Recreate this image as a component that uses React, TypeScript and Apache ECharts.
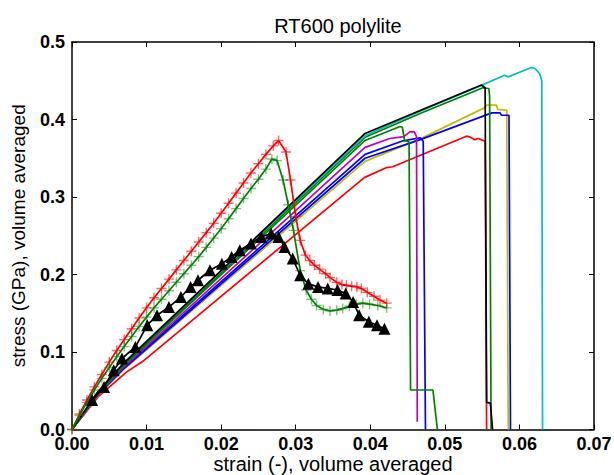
import React, { useEffect, useRef } from "react";
import * as echarts from "echarts";

const FONT = "'Liberation Sans', Arial, sans-serif";

const xTicks = [0, 0.01, 0.02, 0.03, 0.04, 0.05, 0.06, 0.07];
const yTicks = [0, 0.1, 0.2, 0.3, 0.4, 0.5];

const redPlain = [[0,0],[0.0035,0.042],[0.0073,0.074],[0.0095,0.088],[0.0392,0.325],[0.0422,0.338],[0.043,0.339],[0.0529,0.3785],[0.0533,0.3776],[0.054,0.374],[0.0545,0.3755],[0.0551,0.373],[0.0554,0.372],[0.0556,0]];
const yellowPlain = [[0,0],[0.0035,0.044],[0.007,0.078],[0.0393,0.346],[0.0467,0.375],[0.0553,0.415],[0.0556,0.4185],[0.0569,0.4185],[0.0571,0.413],[0.0583,0.412],[0.0585,0]];
const bluePlainLong = [[0,0],[0.0035,0.045],[0.007,0.079],[0.0393,0.35],[0.0467,0.374],[0.0563,0.4085],[0.0574,0.4085],[0.0576,0.4055],[0.0586,0.4055],[0.0588,0]];
const bluePlainShort = [[0,0],[0.0035,0.046],[0.007,0.08],[0.0393,0.355],[0.0444,0.3725],[0.0467,0.3765],[0.0471,0.372],[0.0474,0]];
const magentaPlain = [[0,0],[0.0035,0.046],[0.007,0.081],[0.0393,0.364],[0.0426,0.3755],[0.0445,0.378],[0.0453,0.384],[0.0459,0.384],[0.0462,0.378],[0.0463,0.01]];
const greenShort = [[0,0],[0.0035,0.047],[0.007,0.083],[0.0393,0.373],[0.044,0.391],[0.0443,0.39],[0.0446,0.373],[0.0452,0.371],[0.0454,0.051],[0.0484,0.051],[0.049,0]];
const greenLong = [[0,0],[0.0035,0.048],[0.007,0.084],[0.0393,0.377],[0.047,0.409],[0.0551,0.441],[0.0559,0.44],[0.056,0.43],[0.0562,0]];
const cyanPlain = [[0,0],[0.0035,0.049],[0.007,0.087],[0.0393,0.379],[0.047,0.412],[0.0549,0.444],[0.058,0.457],[0.0585,0.455],[0.0616,0.467],[0.0621,0.4658],[0.0627,0.459],[0.063,0.45],[0.0631,0]];
const blackPlain = [[0,0],[0.0035,0.049],[0.007,0.086],[0.0393,0.382],[0.047,0.413],[0.0549,0.4445],[0.0554,0.441],[0.0556,0.035],[0.0561,0.034],[0.0564,0]];

const redPlus = [[0,0],[0.001,0.02],[0.002,0.038],[0.003,0.055],[0.004,0.071],[0.005,0.087],[0.006,0.102],[0.007,0.116],[0.008,0.13],[0.009,0.144],[0.01,0.157],[0.011,0.17],[0.012,0.182],[0.013,0.194],[0.014,0.206],[0.015,0.218],[0.016,0.23],[0.017,0.242],[0.018,0.254],[0.019,0.266],[0.02,0.279],[0.021,0.292],[0.022,0.305],[0.023,0.318],[0.024,0.331],[0.025,0.343],[0.026,0.355],[0.027,0.366],[0.0277,0.373],[0.0287,0.358],[0.0293,0.322],[0.03,0.275],[0.0306,0.244],[0.0313,0.225],[0.0319,0.218],[0.0325,0.212],[0.0332,0.207],[0.034,0.201],[0.0346,0.196],[0.0355,0.19],[0.0362,0.187],[0.0368,0.186],[0.0375,0.185],[0.0382,0.184],[0.0388,0.182],[0.0396,0.177],[0.0405,0.172],[0.0413,0.167],[0.0422,0.163]];
const greenPlus = [[0,0],[0.001,0.018],[0.002,0.035],[0.003,0.051],[0.004,0.066],[0.005,0.08],[0.006,0.094],[0.007,0.107],[0.008,0.12],[0.009,0.133],[0.01,0.145],[0.011,0.157],[0.012,0.168],[0.013,0.179],[0.014,0.19],[0.015,0.201],[0.016,0.212],[0.017,0.223],[0.018,0.235],[0.019,0.247],[0.02,0.259],[0.021,0.272],[0.022,0.285],[0.023,0.298],[0.024,0.311],[0.025,0.323],[0.026,0.336],[0.0268,0.349],[0.0275,0.347],[0.0283,0.322],[0.029,0.29],[0.0297,0.257],[0.0306,0.205],[0.0314,0.18],[0.0321,0.168],[0.0328,0.16],[0.0337,0.155],[0.0346,0.153],[0.0355,0.154],[0.0363,0.156],[0.0372,0.159],[0.0381,0.1617],[0.039,0.163],[0.0399,0.1617],[0.041,0.16],[0.0422,0.157]];
const blackTri = [[0.0027,0.038],[0.0043,0.055],[0.0056,0.0765],[0.0067,0.0916],[0.0085,0.1066],[0.0101,0.1346],[0.0114,0.1475],[0.013,0.158],[0.0146,0.171],[0.0159,0.184],[0.0169,0.1926],[0.0185,0.2055],[0.0201,0.214],[0.0214,0.2227],[0.0225,0.2313],[0.024,0.24],[0.0254,0.2485],[0.0267,0.253],[0.0277,0.2485],[0.0285,0.2356],[0.0296,0.2206],[0.0306,0.199],[0.0317,0.188],[0.033,0.184],[0.0343,0.182],[0.0356,0.18],[0.0367,0.1755],[0.0377,0.1646],[0.0385,0.1475],[0.0398,0.139],[0.0409,0.1346],[0.0419,0.13]];

const PLUS = "path://M4.3,0H5.7V4.3H10V5.7H5.7V10H4.3V5.7H0V4.3H4.3Z";

function plain(data: number[][], color: string) {
  return {
    type: "line", data, symbol: "none", lineStyle: { color, width: 1.7 }, itemStyle: { color }, z: 2,
  };
}
function marked(data: number[][], color: string, symbol: string, size: number, opacity: number) {
  return {
    type: "line", data, symbol, symbolSize: size, showSymbol: true, showAllSymbol: true,
    lineStyle: { color, width: 1.7 }, itemStyle: { color, opacity }, z: 3,
  };
}

export default function App() {
  const ref = useRef<HTMLDivElement>(null);
  useEffect(() => {
    if (!ref.current) return;
    const chart = echarts.init(ref.current, undefined, { renderer: "svg" });
    const axisLine = { show: true, onZero: false, lineStyle: { color: "#000", width: 1.5 } };
    const tick = { show: true, inside: true, length: 5, lineStyle: { color: "#000", width: 1 } };
    const labelStyle = { color: "#000", fontSize: 18, lineHeight: 14, fontWeight: "bold" as const, fontFamily: FONT };
    chart.setOption({
      animation: false,
      backgroundColor: "#fff",
      title: {
        text: "RT600 polylite", left: 333, top: 11, textAlign: "center",
        textStyle: { fontSize: 20, fontWeight: "normal", color: "#000", fontFamily: FONT },
      },
      grid: { left: 72, top: 42, width: 522, height: 387.5, containLabel: false, outerBoundsMode: "none" },
      xAxis: [
        {
          type: "value", position: "bottom", min: xTicks[0], max: xTicks[xTicks.length - 1], interval: 0.01,
          axisLine, axisTick: tick, splitLine: { show: false },
          axisLabel: { ...labelStyle, margin: 7, formatter: (v: number) => v.toFixed(2) },
          name: "strain (-), volume averaged", nameLocation: "middle", nameGap: 25, nameMoveOverlap: false,
          nameTextStyle: { fontSize: 20, lineHeight: 19, color: "#000", fontFamily: FONT },
        },
        {
          type: "value", position: "top", min: xTicks[0], max: xTicks[xTicks.length - 1], interval: 0.01,
          axisLine, axisTick: tick, splitLine: { show: false }, axisLabel: { show: false },
        },
      ],
      yAxis: [
        {
          type: "value", position: "left", min: yTicks[0], max: yTicks[yTicks.length - 1], interval: 0.1,
          axisLine, axisTick: tick, splitLine: { show: false },
          axisLabel: { ...labelStyle, margin: 7, formatter: (v: number) => v.toFixed(1) },
          name: "stress (GPa), volume averaged", nameLocation: "middle", nameGap: 44, nameRotate: 90, nameMoveOverlap: false,
          nameTextStyle: { fontSize: 19, color: "#000", fontFamily: FONT },
        },
        {
          type: "value", position: "right", min: yTicks[0], max: yTicks[yTicks.length - 1], interval: 0.1,
          axisLine, axisTick: tick, splitLine: { show: false }, axisLabel: { show: false },
        },
      ],
      series: [
        plain(redPlain, "#ff0000"),
        plain(yellowPlain, "#bfbf00"),
        plain(bluePlainLong, "#0000ff"),
        plain(bluePlainShort, "#0000ff"),
        plain(magentaPlain, "#bf00bf"),
        plain(greenShort, "#008000"),
        plain(greenLong, "#008000"),
        plain(cyanPlain, "#00bfbf"),
        plain(blackPlain, "#000000"),
        marked(redPlus, "#ff0000", PLUS, 10, 0.6),
        marked(greenPlus, "#008000", PLUS, 10, 0.5),
        marked(blackTri, "#000000", "triangle", 12, 1),
      ],
    });
    return () => chart.dispose();
  }, []);
  return <div ref={ref} style={{ position: "fixed", left: 0, top: 0, width: 614, height: 475 }} />;
}
